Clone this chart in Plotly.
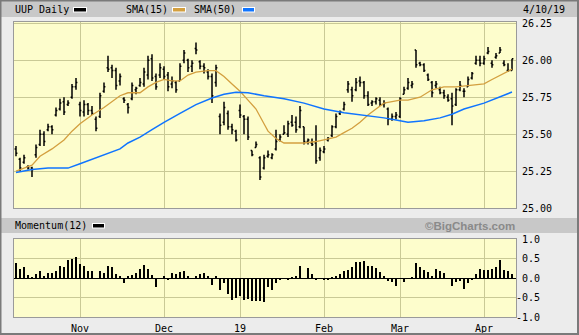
import plotly.graph_objects as go
import pandas as pd

# ---------------- data ----------------
start_date = "2018-10-10"
end_date = "2019-04-10"
holidays = ["2018-11-22", "2018-12-05", "2018-12-25", "2019-01-01", "2019-01-21", "2019-02-18"]
month_labels = ["Nov", "Dec", "19", "Feb", "Mar", "Apr"]

opens = [25.40,25.33,25.31,25.28,25.27,25.36,25.43,25.50,25.53,25.55,
25.63,25.67,25.72,25.70,25.75,25.82,25.70,25.65,25.70,25.66,
25.60,25.62,25.79,25.95,25.95,25.93,25.86,25.74,25.70,25.74,
25.80,25.83,25.84,25.90,26.01,25.89,25.90,25.94,25.90,25.84,
25.85,25.86,26.00,26.00,25.96,26.08,25.99,25.96,25.92,25.89,
25.85,25.62,25.58,25.64,25.55,25.52,25.66,25.62,25.60,25.39,
25.41,25.34,25.27,25.35,25.34,25.40,25.46,25.50,25.50,25.58,
25.58,25.55,25.55,25.45,25.44,25.44,25.34,25.38,25.46,25.49,
25.55,25.64,25.67,25.80,25.80,25.80,25.86,25.85,25.76,25.71,
25.72,25.73,25.70,25.67,25.60,25.62,25.62,25.77,25.81,25.83,
26.07,25.98,25.97,25.90,25.85,25.83,25.80,25.78,25.75,25.74,
25.70,25.80,25.79,25.82,25.88,25.98,26.00,25.98,26.05,25.98,
26.02,26.05,25.98,25.93,25.93]

highs = [25.42,25.34,25.36,25.29,25.28,25.43,25.53,25.52,25.57,25.56,
25.68,25.74,25.75,25.73,25.84,25.88,25.72,25.73,25.71,25.69,
25.62,25.78,25.85,26.03,25.97,25.95,25.91,25.75,25.71,25.85,
25.82,25.88,25.95,26.03,26.04,25.91,25.98,25.96,25.92,25.89,
25.86,25.98,26.07,26.01,26.00,26.12,26.00,25.98,25.94,25.91,
25.97,25.64,25.72,25.66,25.57,25.53,25.70,25.63,25.62,25.39,
25.45,25.35,25.36,25.39,25.37,25.53,25.50,25.56,25.59,25.63,
25.62,25.69,25.55,25.47,25.47,25.56,25.41,25.42,25.48,25.56,
25.64,25.66,25.72,25.86,25.82,25.88,25.89,25.86,25.79,25.73,
25.75,25.75,25.73,25.68,25.64,25.65,25.75,25.82,25.88,25.86,
26.07,25.99,25.98,25.91,25.86,25.86,25.82,25.80,25.77,25.78,
25.81,25.86,25.81,25.89,25.92,26.03,26.03,26.03,26.09,26.00,
26.05,26.09,26.00,25.98,26.01]

lows = [25.35,25.25,25.30,25.26,25.21,25.34,25.42,25.42,25.52,25.50,
25.62,25.66,25.63,25.69,25.74,25.80,25.62,25.62,25.63,25.63,
25.52,25.61,25.78,25.92,25.88,25.80,25.83,25.71,25.64,25.73,
25.77,25.82,25.82,25.87,25.86,25.80,25.88,25.87,25.79,25.81,
25.78,25.86,25.98,25.92,25.92,26.04,25.94,25.91,25.87,25.71,
25.82,25.50,25.56,25.53,25.50,25.45,25.61,25.50,25.46,25.35,
25.41,25.19,25.26,25.34,25.33,25.39,25.45,25.50,25.48,25.55,
25.51,25.54,25.43,25.43,25.42,25.30,25.32,25.37,25.45,25.48,
25.54,25.63,25.66,25.78,25.72,25.79,25.82,25.74,25.69,25.69,
25.70,25.69,25.68,25.56,25.59,25.60,25.61,25.77,25.80,25.81,
25.95,25.96,25.92,25.86,25.75,25.81,25.77,25.74,25.72,25.56,
25.69,25.79,25.75,25.82,25.87,25.97,25.96,25.97,26.04,25.95,
26.01,26.05,25.96,25.92,25.93]

closes = [25.37,25.27,25.34,25.27,25.26,25.41,25.50,25.45,25.55,25.53,
25.66,25.71,25.65,25.71,25.82,25.85,25.66,25.70,25.66,25.64,
25.54,25.76,25.82,25.94,25.93,25.83,25.89,25.73,25.68,25.83,
25.81,25.85,25.92,26.00,25.88,25.82,25.95,25.89,25.82,25.86,
25.80,25.96,26.05,25.95,25.98,26.07,25.96,25.95,25.89,25.76,
25.95,25.56,25.68,25.55,25.53,25.46,25.63,25.60,25.48,25.36,
25.43,25.21,25.34,25.36,25.36,25.45,25.48,25.51,25.57,25.56,
25.53,25.66,25.45,25.46,25.43,25.32,25.39,25.40,25.47,25.55,
25.62,25.65,25.70,25.84,25.76,25.85,25.85,25.76,25.70,25.72,
25.74,25.70,25.71,25.60,25.62,25.63,25.74,25.80,25.85,25.84,
25.97,25.97,25.93,25.87,25.78,25.84,25.78,25.76,25.73,25.69,
25.80,25.83,25.79,25.87,25.91,26.00,25.98,26.01,26.06,25.97,
26.03,26.07,25.97,25.93,26.01]

momentum = [0.38,0.22,0.29,0.07,0.01,0.09,0.17,0.03,0.12,0.12,
0.19,0.30,0.27,0.47,0.49,0.53,0.35,0.30,0.17,0.17,
0.00,0.19,0.12,0.30,0.27,0.10,0.03,-0.12,0.03,0.08,
0.12,0.22,0.33,0.24,0.07,-0.22,0.00,0.05,-0.03,0.14,
0.10,0.16,0.19,0.05,0.00,0.03,0.10,0.12,0.03,-0.17,
0.03,-0.32,-0.14,-0.41,-0.56,-0.50,-0.45,-0.56,-0.55,-0.60,
-0.58,-0.59,-0.61,-0.22,-0.32,-0.14,-0.04,0.00,-0.05,0.02,
0.03,0.31,0.00,0.25,0.11,-0.04,0.00,-0.05,-0.03,0.02,
0.05,0.10,0.17,0.20,0.28,0.40,0.40,0.43,0.30,0.30,
0.25,0.15,0.05,-0.08,-0.10,-0.20,0.00,-0.10,0.00,0.02,
0.38,0.27,0.20,0.15,0.05,0.22,0.17,0.12,0.00,-0.20,
-0.10,-0.08,-0.28,-0.12,-0.05,0.10,0.23,0.20,0.20,0.22,
0.27,0.47,0.20,0.17,0.10]

sma15_idx = [0,2,4,6,9,12,14,16,19,22,24,26,28,31,33,35,37,39,41,43,45,48,50,52,54,56,58,60,62,63,65,67,70,72,75,77,80,82,84,86,88,90,92,94,96,98,101,104,107,110,113,117,119,121,124]
sma15_val = [25.25,25.27,25.29,25.35,25.40,25.46,25.52,25.57,25.63,25.68,25.72,25.76,25.78,25.78,25.82,25.85,25.87,25.86,25.86,25.90,25.92,25.93,25.93,25.89,25.84,25.79,25.73,25.67,25.57,25.52,25.47,25.44,25.44,25.44,25.45,25.46,25.48,25.51,25.54,25.58,25.63,25.67,25.71,25.72,25.73,25.73,25.75,25.80,25.82,25.82,25.83,25.84,25.87,25.90,25.94]

sma50_idx = [0,4,8,13,16,19,22,26,28,31,34,37,41,45,49,52,55,58,62,67,72,77,82,87,92,95,98,102,106,109,112,117,121,124]
sma50_val = [25.24,25.26,25.27,25.27,25.30,25.33,25.36,25.40,25.44,25.48,25.53,25.58,25.64,25.70,25.745,25.77,25.784,25.78,25.76,25.74,25.71,25.67,25.645,25.63,25.61,25.595,25.58,25.59,25.61,25.635,25.67,25.71,25.75,25.785]

price_ticks = [25.00, 25.25, 25.50, 25.75, 26.00, 26.25]
mom_ticks = [-1.0, -0.5, 0.0, 0.5, 1.0]

# ---------------- derived ----------------
dates = [d for d in pd.bdate_range(start_date, end_date) if d.strftime("%Y-%m-%d") not in holidays]
xi = list(range(len(dates)))
month_starts = [i for i in range(1, len(dates)) if dates[i].month != dates[i - 1].month]
last_label = dates[-1].strftime("%-m/%-d/%y")

W_FIG, H_FIG = 579, 335
ML, MR, MT, MB = 14, 63, 22, 18
PW = W_FIG - ML - MR
PH = H_FIG - MT - MB

def px(x):
    return (x - ML) / PW

def py(y):
    return (H_FIG - MB - y) / PH

MONO = "DejaVu Sans Mono"
GRID = "#c9c996"
BG = "#fdfdcc"
PANEL = "#ececec"
BAND = "#c8c8c8"
ORANGE = "#d39f3f"
BLUE = "#0f74ff"

fig = go.Figure()
fig.add_trace(go.Ohlc(x=xi, open=opens, high=highs, low=lows, close=closes,
                      increasing_line_color="black", decreasing_line_color="black",
                      line_width=1.5, tickwidth=0.35, xaxis="x", yaxis="y",
                      hoverinfo="skip"))
fig.add_trace(go.Scatter(x=sma15_idx, y=sma15_val, mode="lines", line=dict(color=ORANGE, width=1.3),
                         xaxis="x", yaxis="y", hoverinfo="skip"))
fig.add_trace(go.Scatter(x=sma50_idx, y=sma50_val, mode="lines", line=dict(color=BLUE, width=1.5),
                         xaxis="x", yaxis="y", hoverinfo="skip"))
fig.add_trace(go.Bar(x=xi, y=momentum, width=0.3, marker=dict(color="black", line=dict(width=0)),
                     xaxis="x2", yaxis="y2", hoverinfo="skip"))

main_bottom = py(208)
mom_top = py(239)
xr = [-0.5, len(dates)]

axis_common = dict(showgrid=True, gridcolor=GRID, gridwidth=1, showline=True, mirror=True,
                   linecolor="#9a9a9a", linewidth=1, ticks="", zeroline=False, automargin=False,
                   tickfont=dict(family=MONO, size=10, color="black"))

fig.update_layout(
    width=W_FIG, height=H_FIG,
    margin=dict(l=ML, r=MR, t=MT, b=MB, pad=0, autoexpand=False),
    paper_bgcolor=PANEL, plot_bgcolor=BG,
    showlegend=False, bargap=0,
    xaxis=dict(axis_common, domain=[0, 1], range=xr, anchor="y", tickvals=month_starts,
               showticklabels=False, rangeslider=dict(visible=False)),
    yaxis=dict(axis_common, domain=[main_bottom, 1], range=[25.0, 26.259], side="right",
               tickvals=price_ticks, ticktext=[f"{v:.2f}" for v in price_ticks],
               ticklabelstandoff=3),
    xaxis2=dict(axis_common, domain=[0, 1], range=xr, anchor="y2", tickvals=month_starts,
                ticktext=month_labels, ticklabelstandoff=2),
    yaxis2=dict(axis_common, domain=[0, mom_top], range=[-1.0, 1.0], side="right",
                tickvals=mom_ticks,
                ticktext=[(f"{v:.1f}" if v < 0 else "\u00a0" + f"{v:.1f}") for v in mom_ticks],
                zeroline=True, zerolinecolor="black", zerolinewidth=1, ticklabelstandoff=-3),
)

shapes = []
# header band
shapes.append(dict(type="rect", xref="paper", yref="paper", x0=px(0), x1=px(579), y0=py(17), y1=py(0),
                   fillcolor=BAND, line=dict(width=0), layer="below"))
# momentum band
shapes.append(dict(type="rect", xref="paper", yref="paper", x0=px(1), x1=px(578), y0=py(233), y1=py(218),
                   fillcolor=BAND, line=dict(width=0), layer="below"))
# legend swatches
def swatch(x0, x1, y0, y1, color):
    shapes.append(dict(type="rect", xref="paper", yref="paper", x0=px(x0 - 1), x1=px(x1 + 1),
                       y0=py(y1 + 1), y1=py(y0 - 1), fillcolor="white", line=dict(width=0)))
    shapes.append(dict(type="rect", xref="paper", yref="paper", x0=px(x0), x1=px(x1),
                       y0=py(y1), y1=py(y0), fillcolor=color, line=dict(width=0)))

swatch(74, 86, 8, 11.5, "black")
swatch(173, 185, 8, 11.5, ORANGE)
swatch(243, 254, 8, 11.5, BLUE)
swatch(93, 104, 224, 227.5, "black")
# outer frame
shapes.append(dict(type="rect", xref="paper", yref="paper", x0=px(0.5), x1=px(578), y0=py(334), y1=py(0.5),
                   fillcolor="rgba(0,0,0,0)", line=dict(color="#7a7a7a", width=2)))
fig.update_layout(shapes=shapes)

def label(x, y, text, anchor="left", font=None):
    fig.add_annotation(xref="paper", yref="paper", x=px(x), y=py(y), text=text, showarrow=False,
                       xanchor=anchor, yanchor="middle", borderpad=0,
                       font=font or dict(family=MONO, size=10, color="black"))

label(14, 9.5, "UUP Daily")
label(125, 9.5, "SMA(15)")
label(193, 9.5, "SMA(50)")
label(522, 9.5, last_label)
label(14, 225.5, "Momentum(12)")
label(516, 225.5, "©BigCharts.com", anchor="right",
      font=dict(family="Liberation Sans", size=11.5, color="#8a8a8a", weight="bold"))

fig.write_html("out.html")
